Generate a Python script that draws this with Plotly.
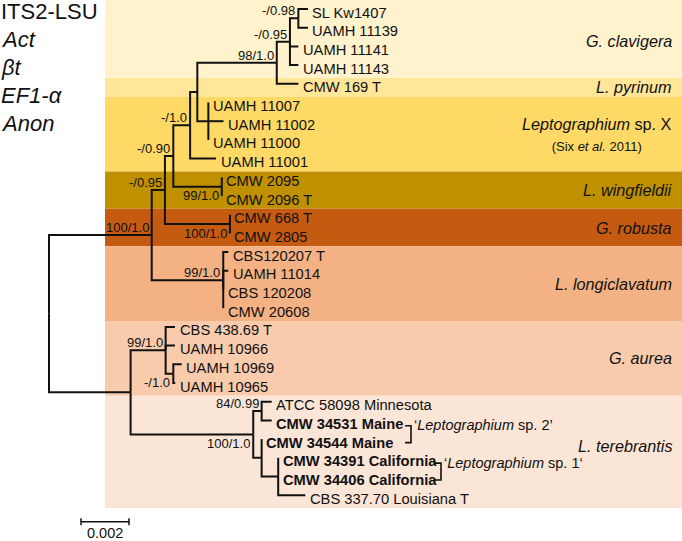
import plotly.graph_objects as go

# ---------------- data ----------------
taxa = [
    "SL Kw1407", "UAMH 11139", "UAMH 11141", "UAMH 11143", "CMW 169 T",
    "UAMH 11007", "UAMH 11002", "UAMH 11000", "UAMH 11001",
    "CMW 2095", "CMW 2096 T", "CMW 668 T", "CMW 2805",
    "CBS120207 T", "UAMH 11014", "CBS 120208", "CMW 20608",
    "CBS 438.69 T", "UAMH 10966", "UAMH 10969", "UAMH 10965",
    "ATCC 58098 Minnesota", "CMW 34531 Maine", "CMW 34544 Maine",
    "CMW 34391 California", "CMW 34406 California", "CBS 337.70 Louisiana T",
]
taxon_parent = ["Q98", "Q98", "Q95", "Q95", "E",
                "SPX", "SPX", "SPX", "D",
                "W", "W", "RB", "RB",
                "LG", "LG", "LG", "LG",
                "AU", "AU", "AU2", "AU2",
                "P", "P", "S",
                "R", "R", "R"]
taxon_length = [0.00040, 0.00040, 0.00035, 0.00035, 0.00090,
                0.0, 0.00063, 0.0, 0.00108,
                0.0, 0.0, 0.0, 0.0,
                0.00021, 0.00021, 0.0, 0.0,
                0.00039, 0.00039, 0.00035, 0.00008,
                0.00042, 0.00042, 0.0,
                0.0, 0.0, 0.00113]
taxon_bold = [False] * 22 + [True] * 4 + [False]

nodes = ["root", "A", "B", "C", "D", "F", "E", "Q95", "Q98", "SPX",
         "W", "RB", "LG", "L", "AU", "AU2", "T", "P", "S", "R"]
node_parent = [None, "root", "A", "B", "C", "D", "F", "E", "Q95", "F",
               "C", "B", "A", "root", "L", "AU", "L", "T", "T", "S"]
node_length = [0.0, 0.00428, 0.00055, 0.00035, 0.00070, 0.00030, 0.00331, 0.00055, 0.00035, 0.00046,
               0.00202, 0.00271, 0.00298, 0.00340, 0.00146, 0.00032, 0.00511, 0.00035, 0.00035, 0.00069]
node_support = ["", "100/1.0", "-/0.95", "-/0.90", "-/1.0", "", "98/1.0", "-/0.95", "-/0.98", "",
                "99/1.0", "100/1.0", "99/1.0", "", "99/1.0", "-/1.0", "100/1.0", "84/0.99", "", ""]
support_side = ["", "above", "above", "above", "above", "", "above", "above", "above", "",
                "below", "below", "above", "", "above", "below", "below", "above", "", ""]

clades = ["<i>G. clavigera</i>", "<i>L. pyrinum</i>", "<i>Leptographium</i> sp. X",
          "<i>L. wingfieldii</i>", "<i>G. robusta</i>", "<i>L. longiclavatum</i>",
          "<i>G. aurea</i>", "<i>L. terebrantis</i>"]
clade_first = [0, 4, 5, 9, 11, 13, 17, 21]
clade_last = [3, 4, 8, 10, 12, 16, 20, 26]
clade_notes = ["", "", "(Six <i>et al.</i> 2011)", "", "", "", "", ""]
clade_colors = ["#FFF2CC", "#FFE699", "#FFD966", "#BF9000",
                "#C55A11", "#F4B183", "#F8CBAD", "#FBE5D6"]

groups = ["\u2018<i>Leptographium</i> sp. 2\u2019", "\u2018<i>Leptographium</i> sp. 1\u2018"]
group_first = [22, 24]
group_last = [23, 25]

gene_regions = ["ITS2-LSU", "<i>Act</i>", "<i>\u03b2t</i>", "<i>EF1-\u03b1</i>", "<i>Anon</i>"]
scale_bar_length = 0.002
scale_bar_label = "0.002"

# ---------------- layout constants ----------------
W, H = 682, 541
PX_PER_UNIT = 24000.0      # 48 px per 0.002 substitutions/site
ROOT_PX = 49.0
ROW0_PX = 9.0
ROW_PX = 18.7
TEXT_DROP = 3.5            # labels sit slightly below their branch
FONT = "Liberation Sans, Arial, sans-serif"
LINE_COLOR = "#111111"


def px_to_x(px):
    return (px - ROOT_PX) / PX_PER_UNIT


def px_to_row(py):
    return (py - ROW0_PX) / ROW_PX


# ---------------- tree layout ----------------
children = {n: [] for n in nodes}
for n, p in zip(nodes, node_parent):
    if p is not None:
        children[p].append(("node", n))
for i, p in enumerate(taxon_parent):
    children[p].append(("leaf", i))

node_x = {}
for n, p, l in zip(nodes, node_parent, node_length):
    node_x[n] = 0.0 if p is None else node_x[p] + l

node_y = {}
for n in reversed(nodes):
    ys = [c if k == "leaf" else node_y[c] for k, c in children[n]]
    node_y[n] = (min(ys) + max(ys)) / 2.0

leaf_x = [node_x[p] + l for p, l in zip(taxon_parent, taxon_length)]

xs, ys = [], []
for n in nodes:
    for k, c in children[n]:
        if k == "leaf":
            cx, cy = leaf_x[c], c
        else:
            cx, cy = node_x[c], node_y[c]
        xs += [node_x[n], node_x[n], cx, None]
        ys += [node_y[n], cy, cy, None]

fig = go.Figure()

# clade bands
shapes = []
for f, l, col in zip(clade_first, clade_last, clade_colors):
    y0 = f - 0.5 + TEXT_DROP / ROW_PX
    y1 = l + 0.5 + TEXT_DROP / ROW_PX
    if f == 0:
        y0 = px_to_row(0)
    shapes.append(dict(type="rect", xref="paper", yref="y",
                       x0=105 / W, x1=1.0, y0=y0, y1=y1,
                       fillcolor=col, line=dict(width=0), layer="below"))

fig.add_trace(go.Scatter(x=xs, y=ys, mode="lines",
                         line=dict(color=LINE_COLOR, width=2),
                         hoverinfo="skip", showlegend=False))

annotations = []
# leaf labels
for i, name in enumerate(taxa):
    txt = f"<b>{name}</b>" if taxon_bold[i] else name
    annotations.append(dict(x=leaf_x[i], y=i, xref="x", yref="y", text=txt,
                            xanchor="left", yanchor="middle", xshift=2.5,
                            yshift=-TEXT_DROP, showarrow=False,
                            font=dict(family=FONT, size=14.7, color="#111111")))

# support values
for n, s, side in zip(nodes, node_support, support_side):
    if s:
        annotations.append(dict(x=node_x[n], y=node_y[n], xref="x", yref="y", text=s,
                                xanchor="right", yanchor="middle", xshift=-1,
                                yshift=7.5 if side == "above" else -9,
                                showarrow=False,
                                font=dict(family=FONT, size=13, color="#111111")))

# clade names
for name, note, f, l in zip(clades, clade_notes, clade_first, clade_last):
    txt = name
    if note:
        txt = name + "<br><span style='font-size:13px'>" + note + "</span>"
    extra = 6 if f == 21 else 0
    annotations.append(dict(x=671.7 / W, y=(f + l) / 2.0, xref="paper", yref="y",
                            text=txt, xanchor="right", yanchor="middle", align="center",
                            xshift=2, yshift=-TEXT_DROP + extra, showarrow=False,
                            font=dict(family=FONT, size=16.2, color="#111111")))

# group brackets
bracket_px = [411.0, 441.0]
bx, byy = [], []
for g, f, l, bp in zip(groups, group_first, group_last, bracket_px):
    yt = f + 0.1 + TEXT_DROP / ROW_PX
    yb = l + TEXT_DROP / ROW_PX
    x1 = px_to_x(bp)
    x0 = px_to_x(bp - 6)
    bx += [x0, x1, x1, x0, None]
    byy += [yt, yt, yb, yb, None]
    annotations.append(dict(x=x1, y=f, xref="x", yref="y", text=g,
                            xanchor="left", yanchor="middle", xshift=0.5,
                            yshift=-TEXT_DROP - 1.5, showarrow=False,
                            font=dict(family=FONT, size=14.5, color="#111111")))
fig.add_trace(go.Scatter(x=bx, y=byy, mode="lines",
                         line=dict(color=LINE_COLOR, width=1.6),
                         hoverinfo="skip", showlegend=False))

# gene regions text block
for k, g in enumerate(gene_regions):
    py = 12.0 + 27.9 * k
    annotations.append(dict(x=0, y=1 - py / H, xref="paper", yref="paper", text=g,
                            xanchor="left", yanchor="middle", xshift=-1.5,
                            showarrow=False,
                            font=dict(family=FONT, size=22, color="#111111")))

# scale bar
sb_x0 = px_to_x(81)
sb_x1 = sb_x0 + scale_bar_length
sb_y = px_to_row(521.7)
tick = 3.5 / ROW_PX
fig.add_trace(go.Scatter(
    x=[sb_x0, sb_x1, None, sb_x0, sb_x0, None, sb_x1, sb_x1],
    y=[sb_y, sb_y, None, sb_y - tick, sb_y + tick, None, sb_y - tick, sb_y + tick],
    mode="lines", line=dict(color=LINE_COLOR, width=1.5),
    hoverinfo="skip", showlegend=False))
annotations.append(dict(x=(sb_x0 + sb_x1) / 2, y=0, xref="x", yref="paper",
                        text=scale_bar_label, xanchor="center", yanchor="bottom",
                        borderpad=0, borderwidth=0, yshift=0.5,
                        showarrow=False, font=dict(family=FONT, size=14.5, color="#111111")))

fig.update_layout(
    width=W, height=H, autosize=False,
    margin=dict(l=0, r=0, t=0, b=0, pad=0),
    paper_bgcolor="white", plot_bgcolor="white",
    xaxis=dict(range=[px_to_x(0), px_to_x(W)], visible=False, fixedrange=True),
    yaxis=dict(range=[px_to_row(H), px_to_row(0)], visible=False, fixedrange=True),
    shapes=shapes, annotations=annotations, showlegend=False,
)

fig.write_html(
    "out.html",
    config={"displayModeBar": False},
    post_script="document.body.style.margin='0px';document.body.style.overflow='hidden';",
)
